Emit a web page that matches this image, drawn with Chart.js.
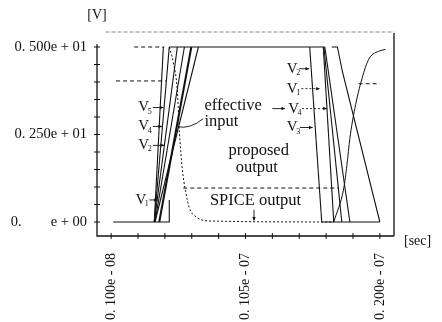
<!DOCTYPE html>
<html>
<head>
<meta charset="utf-8">
<script src="https://cdn.jsdelivr.net/npm/chart.js@4"></script>
<style>
html, body { margin: 0; background: #fff; }
#wrap { width: 442px; height: 322px; }
</style>
</head>
<body>
<div id="wrap"><canvas id="waveChart" width="442" height="322"></canvas></div>
<script>
// axis ticks (time in ns, voltage in V)
const timeTicks = [1, 2.9, 4.8, 6.7, 8.6, 10.5, 12.4, 14.3, 16.2, 18.1, 20]
const timeLabelAt = [1, 10.5, 20]
const timeLabels = ['0. 100e - 08', '0. 105e - 07', '0. 200e - 07']
const voltTicks = [0, 0.5, 1, 1.5, 2, 2.5, 3, 3.5, 4, 4.5, 5]
const voltLabelAt = [0, 2.5, 5]
const voltLabels = ['0.        e + 00', '0. 250e + 01', '0. 500e + 01']

// waveforms as [time, volts]
const baseLow = [[1.14, 0], [5.11, 0], [5.11, 0.63]]
const riseV5 = [[4.05, 0], [4.69, 5]]
const riseV4 = [[4.05, 0], [5.11, 5]]
const riseV2 = [[4.05, 0], [5.68, 5]]
const riseV3 = [[4.1, 0], [6.18, 5]]
const riseV1 = [[4.1, 0], [7.17, 5]]
const effectiveInput = [[4.4, 0], [6.67, 5]]
const topHigh = [[5.11, 5], [16.11, 5]]
const fallA = [[15.04, 5], [15.89, 0]]
const fallB = [[16.0, 5], [16.74, 0]]
const fallC = [[16.04, 5], [17.31, 0]]
const fallD = [[16.11, 5], [17.88, 0]]
const fallLong = [[16.6, 5], [17.0, 5], [17.2, 4.6], [17.35, 4.3], [20.0, 0]]
const bottomRight = [[15.89, 0], [20.0, 0]]
const spiceFall = [[5.11, 5], [5.4, 4.55], [5.68, 3.75], [5.82, 2.61], [6.04, 1.48], [6.25, 0.91],
                   [6.53, 0.4], [7.03, 0.14], [7.88, 0.03], [16.74, 0]]
const spiceRise = [[16.74, 0], [17.45, 0.97], [17.67, 1.62], [17.88, 2.39], [18.23, 3.24],
                   [18.73, 4.09], [19.23, 4.66], [20.0, 4.89], [20.4, 4.93]]
const dashTop = [[2.63, 5], [4.76, 5]]
const dashFour = [[1.35, 4.03], [4.9, 4.03]]
const dashLow = [[6.1, 0.97], [17.1, 0.97]]
const dashRight = [[18.5, 3.95], [20.0, 3.95]]

const pts = arr => arr.map(p => ({ x: p[0], y: p[1] }))
const line = (arr, extra) => Object.assign({
    data: pts(arr), borderColor: '#111', borderWidth: 1.1,
    pointRadius: 0, fill: false, tension: 0
}, extra || {})

const serif = '"Liberation Serif", "DejaVu Serif", serif'

const paperDecor = {
    id: 'paperDecor',
    beforeDraw(chart) {
        const ctx = chart.ctx
        ctx.save()
        ctx.fillStyle = '#fff'
        ctx.fillRect(0, 0, chart.width, chart.height)
        ctx.restore()
    },
    afterDraw(chart) {
        const { ctx, chartArea: a, scales: { x, y } } = chart
        const px = t => x.getPixelForValue(t)
        const py = v => y.getPixelForValue(v)
        ctx.save()
        ctx.strokeStyle = '#111'
        ctx.lineWidth = 1.3
        ctx.beginPath()
        ctx.moveTo(a.left, py(5.08)); ctx.lineTo(a.left, a.bottom); ctx.lineTo(a.right, a.bottom)
        ctx.moveTo(a.right, a.bottom); ctx.lineTo(a.right, a.top)
        ctx.stroke()
        // faint top rule
        ctx.strokeStyle = '#888'
        ctx.lineWidth = 1
        ctx.setLineDash([4, 2])
        ctx.beginPath(); ctx.moveTo(px(0.6), a.top - 1); ctx.lineTo(a.right, a.top - 1); ctx.stroke()
        ctx.setLineDash([])
        // tick crosses
        ctx.strokeStyle = '#111'
        ctx.beginPath()
        voltTicks.forEach(v => { ctx.moveTo(a.left - 3, py(v)); ctx.lineTo(a.left + 3, py(v)) })
        timeTicks.forEach(t => { ctx.moveTo(px(t), a.bottom - 3); ctx.lineTo(px(t), a.bottom + 3) })
        ctx.stroke()

        ctx.fillStyle = '#111'
        ctx.textBaseline = 'middle'
        ctx.textAlign = 'center'
        ctx.font = '14px ' + serif
        ctx.fillText('[V]', a.left, 15)
        ctx.textAlign = 'left'
        ctx.fillText('[sec]', a.right + 10, a.bottom + 5)

        const arrow = (t1, v1, t2, v2, dash) => {
            const x1 = px(t1), y1 = py(v1), x2 = px(t2), y2 = py(v2)
            ctx.setLineDash(dash ? [2, 2] : [])
            ctx.lineWidth = 0.9
            ctx.beginPath(); ctx.moveTo(x1, y1); ctx.lineTo(x2, y2); ctx.stroke()
            ctx.setLineDash([])
            const ang = Math.atan2(y2 - y1, x2 - x1)
            ctx.beginPath()
            ctx.moveTo(x2, y2)
            ctx.lineTo(x2 - 4 * Math.cos(ang - 0.45), y2 - 4 * Math.sin(ang - 0.45))
            ctx.lineTo(x2 - 4 * Math.cos(ang + 0.45), y2 - 4 * Math.sin(ang + 0.45))
            ctx.closePath(); ctx.fill()
        }
        const vLabel = (t, v, n) => {
            ctx.textAlign = 'center'
            ctx.font = '15px ' + serif
            ctx.fillText('V', px(t), py(v))
            ctx.font = '8px ' + serif
            ctx.fillText(n, px(t) + 6, py(v) + 4)
        }
        // left input labels
        vLabel(3.3, 3.27, '5'); arrow(3.95, 3.27, 4.7, 3.27)
        vLabel(3.3, 2.73, '4'); arrow(3.95, 2.73, 4.6, 2.73)
        vLabel(3.3, 2.19, '2'); arrow(3.95, 2.19, 4.75, 2.19)
        vLabel(3.1, 0.63, '1'); arrow(3.7, 0.63, 4.3, 0.63)
        // right input labels
        vLabel(13.8, 4.38, '2'); arrow(14.3, 4.38, 15.0, 4.38)
        vLabel(13.8, 3.81, '1'); arrow(14.45, 3.81, 15.75, 3.81, true)
        vLabel(13.9, 3.24, '4'); arrow(14.5, 3.24, 16.25, 3.24, true)
        vLabel(13.8, 2.7, '3'); arrow(14.35, 2.7, 15.25, 2.7)
        arrow(12.4, 3.24, 13.3, 3.24)

        ctx.font = '16.5px ' + serif
        ctx.textAlign = 'left'
        ctx.fillText('effective', px(7.6), py(3.32))
        ctx.fillText('input', px(7.6), py(2.87))
        ctx.textAlign = 'center'
        ctx.fillText('proposed', px(11.43), py(2.05))
        ctx.fillText('output', px(11.3), py(1.56))
        ctx.fillText('SPICE output', px(11.21), py(0.6))
        arrow(11.1, 0.35, 11.1, 0.04)
        // curved leader from "input" to the effective input ramp
        ctx.lineWidth = 0.9
        ctx.beginPath()
        ctx.moveTo(px(7.5), py(2.95))
        ctx.quadraticCurveTo(px(6.6), py(2.65), px(5.7), py(2.72))
        ctx.stroke()
        ctx.restore()
    }
}

new Chart(document.getElementById('waveChart').getContext('2d'), {
    type: 'line',
    data: {
        datasets: [
            line(baseLow),
            line(riseV5), line(riseV4), line(riseV2), line(riseV3), line(riseV1),
            line(effectiveInput, { borderWidth: 2 }),
            line(topHigh),
            line(fallA), line(fallB), line(fallC), line(fallD), line(fallLong),
            line(bottomRight),
            line(spiceFall, { borderDash: [2, 2], cubicInterpolationMode: 'monotone', borderWidth: 1 }),
            line(spiceRise, { cubicInterpolationMode: 'monotone', borderWidth: 1 }),
            line(dashTop, { borderDash: [4, 3], borderWidth: 1 }),
            line(dashFour, { borderDash: [4, 3], borderWidth: 1 }),
            line(dashLow, { borderDash: [4, 3], borderWidth: 1 }),
            line(dashRight, { borderDash: [4, 3], borderWidth: 1 })
        ]
    },
    options: {
        responsive: false,
        animation: false,
        layout: { padding: { top: 33, right: 48, left: 0, bottom: 0 } },
        plugins: { legend: { display: false }, tooltip: { enabled: false } },
        scales: {
            x: {
                type: 'linear', min: 0, max: 21,
                afterBuildTicks: s => { s.ticks = timeLabelAt.map(v => ({ value: v })) },
                afterFit: s => { s.height = 86 },
                grid: { display: false },
                border: { display: false },
                ticks: {
                    autoSkip: false, minRotation: 90, maxRotation: 90, padding: 9,
                    color: '#111', font: { family: serif, size: 14 },
                    callback: v => timeLabels[timeLabelAt.indexOf(v)]
                }
            },
            y: {
                min: -0.4, max: 5.4,
                afterBuildTicks: s => { s.ticks = voltLabelAt.map(v => ({ value: v })) },
                afterFit: s => { s.width = 97 },
                grid: { display: false },
                border: { display: false },
                ticks: {
                    padding: 2, color: '#111', font: { family: serif, size: 14.5 },
                    callback: v => voltLabels[voltLabelAt.indexOf(v)]
                }
            }
        }
    },
    plugins: [paperDecor]
})
</script>
</body>
</html>
